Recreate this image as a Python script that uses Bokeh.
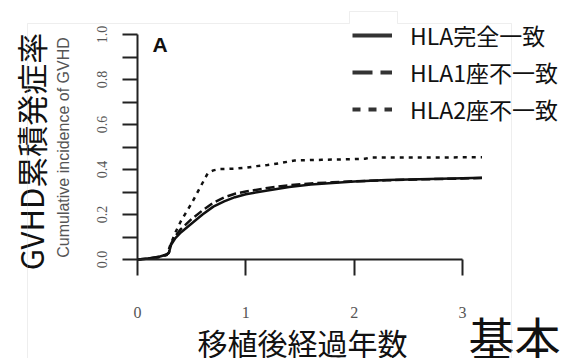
import math
from bokeh.plotting import figure
from bokeh.models import (FixedTicker, Label, Legend, LegendItem,
                          PolyAnnotation, Range1d)
from bokeh.embed import file_html
from bokeh.resources import INLINE

# ---------------- data ----------------
series_names = ["HLA完全一致", "HLA1座不一致", "HLA2座不一致"]

years_match = [0, 0.1, 0.2, 0.27, 0.29, 0.31, 0.35, 0.4, 0.5, 0.6, 0.7, 0.8, 0.9,
               1.0, 1.2, 1.4, 1.6, 1.8, 2.0, 2.3, 2.6, 3.0, 3.18]
cif_match = [0, 0.004, 0.012, 0.022, 0.03, 0.065, 0.095, 0.12, 0.16, 0.2, 0.235,
             0.258, 0.277, 0.29, 0.307, 0.322, 0.333, 0.34, 0.347, 0.353, 0.357,
             0.361, 0.363]

years_1mm = [0, 0.1, 0.2, 0.27, 0.29, 0.31, 0.35, 0.4, 0.5, 0.6, 0.7, 0.8, 0.9,
             1.0, 1.2, 1.4, 1.6, 1.8, 2.0, 2.3, 2.6, 3.0, 3.18]
cif_1mm = [0, 0.004, 0.012, 0.022, 0.03, 0.07, 0.105, 0.135, 0.18, 0.218, 0.252,
           0.276, 0.292, 0.302, 0.318, 0.33, 0.338, 0.343, 0.348, 0.352, 0.356,
           0.36, 0.362]

years_2mm = [0, 0.1, 0.2, 0.27, 0.3, 0.35, 0.4, 0.45, 0.5, 0.55, 0.6, 0.65, 0.7,
             0.75, 0.9, 1.0, 1.1, 1.2, 1.3, 1.45, 1.7, 2.0, 2.1, 2.15, 2.6, 3.0, 3.18]
cif_2mm = [0, 0.004, 0.01, 0.02, 0.06, 0.12, 0.17, 0.21, 0.25, 0.295, 0.34, 0.385,
           0.396, 0.402, 0.404, 0.408, 0.415, 0.42, 0.427, 0.44, 0.443, 0.446,
           0.448, 0.453, 0.453, 0.454, 0.454]

x_ticks = [0, 1, 2, 3]
x_tick_labels = ["0", "1", "2", "3"]
y_major_ticks = [0.0, 0.2, 0.4, 0.6, 0.8, 1.0]
y_tick_labels = ["0.0", "0.2", "0.4", "0.6", "0.8", "1.0"]
y_minor_ticks = [0.1, 0.3, 0.5, 0.7, 0.9]

y_title_inner = "Cumulative incidence of GVHD"
y_title_outer = "GVHD累積発症率"
x_title = "移植後経過年数"
panel_tag = "A"
corner_text = "基本"

# ---------------- layout ----------------
W, H = 565, 358
X0, Y0 = 137, 259               # reference pixel of the data origin
XPX, YPX = 108.33, 225.0        # px per year, px per unit incidence

# reference-pixel -> data helpers
def dx(px):
    return (px - X0) / XPX

def dy(py):
    return (Y0 - py) / YPX

CJK = "Noto Sans CJK JP"

p = figure(width=W, height=H,
           x_range=Range1d(dx(0), dx(W)), y_range=Range1d(dy(H), dy(0)),
           output_backend="svg", toolbar_location=None,
           min_border_left=0, min_border_bottom=0,
           min_border_top=0, min_border_right=0)
p.outline_line_color = None
p.grid.visible = False
p.background_fill_color = "white"
p.border_fill_color = "white"

# x axis
xa = p.xaxis[0]
xa.fixed_location = 0
xa.ticker = FixedTicker(ticks=x_ticks)
xa.major_label_overrides = {t: s for t, s in zip(x_ticks, x_tick_labels)}
xa.bounds = (x_ticks[0], x_ticks[-1])
xa.axis_line_width = 2
xa.axis_line_color = "#222222"
xa.major_tick_line_width = 2
xa.major_tick_line_color = "#222222"
xa.major_tick_in = 0
xa.major_tick_out = 16
xa.minor_tick_out = 0
xa.minor_tick_in = 0
xa.major_label_standoff = 31
xa.major_label_text_font = "Liberation Serif"
xa.major_label_text_font_size = "16px"
xa.major_label_text_color = "#555555"

# y axis
ya = p.yaxis[0]
ya.fixed_location = 0
ya.ticker = FixedTicker(ticks=y_major_ticks, minor_ticks=y_minor_ticks)
ya.major_label_overrides = {t: s for t, s in zip(y_major_ticks, y_tick_labels)}
ya.bounds = (0, 1)
ya.axis_line_width = 2
ya.axis_line_color = "#222222"
ya.major_tick_line_width = 2
ya.major_tick_line_color = "#222222"
ya.minor_tick_line_width = 2
ya.minor_tick_line_color = "#222222"
ya.major_tick_in = 0
ya.major_tick_out = 15
ya.minor_tick_in = 0
ya.minor_tick_out = 15
ya.major_label_orientation = "parallel"
ya.major_label_standoff = 16
ya.major_label_text_font = "Liberation Serif"
ya.major_label_text_font_size = "14px"
ya.major_label_text_color = "#555555"

# axis titles
p.add_layout(Label(x=dx(302), y=dy(341), text=x_title, text_font=CJK,
                   text_font_size="30px", text_color="#111111",
                   text_align="center", text_baseline="middle"))
p.add_layout(Label(x=dx(63), y=dy(147), text=y_title_inner, angle=math.pi / 2,
                   text_font="Liberation Sans", text_font_size="16px",
                   text_color="#555555", text_align="center", text_baseline="middle"))
p.add_layout(Label(x=dx(30), y=dy(151), text=y_title_outer, angle=math.pi / 2,
                   text_font=CJK, text_font_size="31px", text_color="#111111",
                   text_align="center", text_baseline="middle"))

# curves
styles = [("solid", "solid"), ("9 4", "20 8"), ("4 5", "8 8")]
series = [(years_match, cif_match), (years_1mm, cif_1mm), (years_2mm, cif_2mm)]
items = []
for (xs, ys), (dash, ldash), name in zip(series, styles, series_names):
    p.line(xs, ys, line_color="#111111", line_width=2.5, line_dash=dash)
    # one-point line: draws nothing on the plot, only styles the legend sample
    r = p.line(xs[:1], ys[:1], line_color="#333333", line_width=4, line_dash=ldash)
    items.append(LegendItem(label=name, renderers=[r]))

legend = Legend(items=items, location=(352, 232), glyph_width=40, glyph_height=30,
                spacing=3, label_standoff=18, padding=0, margin=0,
                border_line_color=None, background_fill_alpha=0,
                label_text_font=CJK, label_text_font_size="23px",
                label_text_color="#111111")
p.add_layout(legend, "center")

p.add_layout(Label(x=dx(152), y=dy(44), text=panel_tag, text_font="Liberation Sans",
                   text_font_size="21px", text_font_style="bold", text_color="#111111",
                   text_baseline="alphabetic", text_align="left"))
p.add_layout(Label(x=dx(468), y=dy(335), text=corner_text, text_font=CJK,
                   text_font_size="46px", text_color="#111111",
                   text_baseline="middle", text_align="left"))

# slide frame (light gray)
fx = [27, 27, 349, 349, 397, 397, 511, 511]
fy = [366, 23, 23, 11, 11, 23, 23, 366]
p.add_layout(PolyAnnotation(xs=[dx(v) for v in fx], ys=[dy(v) for v in fy],
                            fill_alpha=0, line_color="#c8c8c8", line_width=1))

open("out.html", "w").write(file_html(p, INLINE))
